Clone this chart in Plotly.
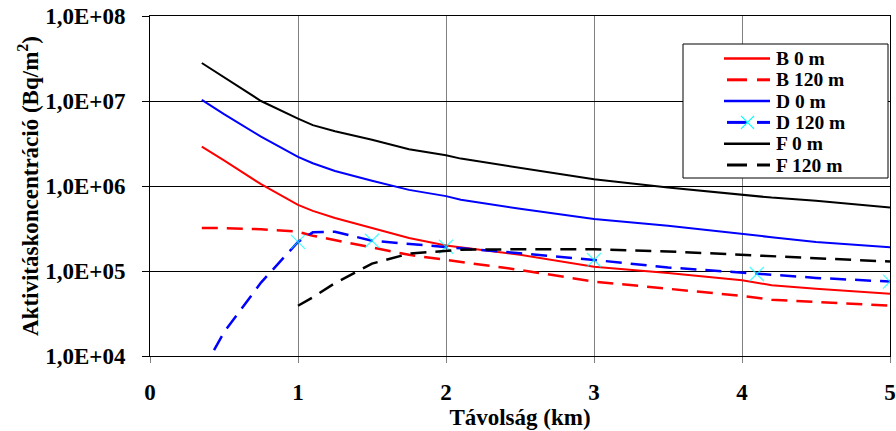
import plotly.graph_objects as go

# Distance from the source (km)
x_main = [0.35, 0.5, 0.75, 1.0, 1.1, 1.25, 1.5, 1.75, 2.0, 2.1, 2.5, 3.0, 3.5, 4.0, 4.2, 4.5, 5.0]
x_d120 = [0.35, 0.5, 0.75, 1.0, 1.1, 1.25, 1.5, 1.75, 2.0, 2.1, 2.5, 3.0, 3.5, 4.1, 4.5, 5.0]
x_f120 = [1.0, 1.1, 1.25, 1.5, 1.75, 2.0, 2.1, 2.5, 3.0, 3.5, 4.0, 4.2, 4.5, 5.0]

# Deposited activity concentration (Bq/m2)
b_0m = [2.9e6, 2.0e6, 1.05e6, 6.0e5, 5.1e5, 4.2e5, 3.2e5, 2.45e5, 2.0e5, 1.9e5, 1.55e5, 1.12e5, 9.5e4, 7.8e4, 6.8e4, 6.2e4, 5.4e4]
b_120m = [3.2e5, 3.2e5, 3.1e5, 2.9e5, 2.6e5, 2.3e5, 1.9e5, 1.55e5, 1.35e5, 1.28e5, 1.03e5, 7.5e4, 6.2e4, 5.1e4, 4.6e4, 4.3e4, 3.9e4]
d_0m = [1.03e7, 7.0e6, 3.8e6, 2.2e6, 1.85e6, 1.5e6, 1.15e6, 9.0e5, 7.6e5, 6.9e5, 5.4e5, 4.1e5, 3.4e5, 2.7e5, 2.5e5, 2.2e5, 1.9e5]
d_120m = [6.5e3, 1.9e4, 7.3e4, 2.2e5, 2.85e5, 2.9e5, 2.27e5, 2.1e5, 1.93e5, 1.85e5, 1.62e5, 1.35e5, 1.1e5, 9.2e4, 8.3e4, 7.5e4]
d_120m_marked = [False, False, False, True, False, False, True, False, True, False, False, True, False, True, False, True]
f_0m = [2.8e7, 1.9e7, 1.0e7, 6.2e6, 5.2e6, 4.4e6, 3.5e6, 2.7e6, 2.3e6, 2.1e6, 1.65e6, 1.2e6, 9.6e5, 8.0e5, 7.3e5, 6.7e5, 5.6e5]
f_120m = [3.9e4, 4.9e4, 7.2e4, 1.22e5, 1.6e5, 1.75e5, 1.78e5, 1.8e5, 1.8e5, 1.7e5, 1.55e5, 1.5e5, 1.42e5, 1.29e5]

series_names = ["B 0 m", "B 120 m", "D 0 m", "D 120 m", "F 0 m", "F 120 m"]

y_tickvals = [1e4, 1e5, 1e6, 1e7, 1e8]
y_ticktext = ["1,0E+04", "1,0E+05", "1,0E+06", "1,0E+07", "1,0E+08"]
x_tickvals = [0, 1, 2, 3, 4, 5]

FONT = "'Times New Roman', 'Liberation Serif', serif"
FS = 23
DASH = "16px,9px"
RED, BLUE, BLACK, CYAN = "#ff0000", "#0000ff", "#000000", "#00ffff"

styles = [
    dict(color=RED, width=2, dash="solid"),
    dict(color=RED, width=2.5, dash=DASH),
    dict(color=BLUE, width=2, dash="solid"),
    dict(color=BLUE, width=2.5, dash=DASH),
    dict(color=BLACK, width=2, dash="solid"),
    dict(color=BLACK, width=2.5, dash=DASH),
]
xs = [x_main, x_main, x_main, x_d120, x_main, x_f120]
ys = [b_0m, b_120m, d_0m, d_120m, f_0m, f_120m]

fig = go.Figure()
for name, x, y, st in zip(series_names, xs, ys, styles):
    if name == "D 120 m":
        fig.add_trace(go.Scatter(
            x=x, y=y, name=name, mode="lines+markers", line=st,
            marker=dict(symbol="x-thin", color=CYAN,
                        size=[14 if m else 0 for m in d_120m_marked],
                        line=dict(color=CYAN, width=1.3))))
    else:
        fig.add_trace(go.Scatter(x=x, y=y, name=name, mode="lines", line=st))

# Legend box drawn in paper coordinates
L, R, T, B = 683, 888, 44, 178          # box edges (px)
PL, PW, PT, PH = 150, 740, 16, 340      # plot area (px)
def px(v):
    return (v - PL) / PW
def py(v):
    return (PT + PH - v) / PH

shapes = [dict(type="rect", xref="paper", yref="paper",
               x0=px(L), x1=px(R), y0=py(B), y1=py(T),
               line=dict(color="black", width=1), fillcolor="white", layer="above")]
annotations = []
row0, step = 58.5, 21.3
for i, (name, st) in enumerate(zip(series_names, styles)):
    yc = row0 + i * step
    if st["dash"] == "solid":
        shapes.append(dict(type="line", xref="paper", yref="paper",
                           x0=px(724), x1=px(770), y0=py(yc), y1=py(yc),
                           line=dict(color=st["color"], width=2.5), layer="above"))
    else:
        for a, b in [(727, 747), (757, 770)]:
            shapes.append(dict(type="line", xref="paper", yref="paper",
                               x0=px(a), x1=px(b), y0=py(yc), y1=py(yc),
                               line=dict(color=st["color"], width=3), layer="above"))
    if name == "D 120 m":
        for d in (1, -1):
            shapes.append(dict(type="line", xref="paper", yref="paper",
                               x0=px(741), x1=px(754), y0=py(yc - 6.5 * d), y1=py(yc + 6.5 * d),
                               line=dict(color=CYAN, width=1.3), layer="above"))
    annotations.append(dict(xref="paper", yref="paper", x=px(775), y=py(yc),
                            xanchor="left", yanchor="middle", showarrow=False,
                            borderpad=0, text=f"<b>{name}</b>",
                            font=dict(family=FONT, size=19.5, color="black")))

fig.update_layout(
    width=896, height=431,
    margin=dict(l=PL, r=896 - PL - PW, t=PT, b=431 - PT - PH),
    paper_bgcolor="white", plot_bgcolor="white",
    font=dict(family=FONT, size=FS, color="black"),
    showlegend=False,
    shapes=shapes, annotations=annotations,
)
fig.update_xaxes(
    range=[0, 5], tickvals=x_tickvals, ticks="outside", ticklen=6,
    tickcolor="#808080", showgrid=True, gridcolor="#808080", gridwidth=1,
    showline=True, linecolor="black", linewidth=1, mirror=True,
    zeroline=False, ticklabelstandoff=9, automargin=False,
    tickfont=dict(family=FONT, size=FS, weight="bold"),
    title=dict(text="Távolság (km)", standoff=4,
               font=dict(family=FONT, size=FS, weight="bold")),
)
fig.update_yaxes(
    type="log", range=[4, 8], tickvals=y_tickvals, ticktext=y_ticktext,
    ticks="outside", ticklen=7, tickcolor="black",
    showgrid=True, gridcolor="black", gridwidth=1,
    showline=True, linecolor="black", linewidth=1, mirror=True,
    zeroline=False, ticklabelstandoff=12, automargin=False,
    tickfont=dict(family=FONT, size=FS, weight="bold"),
    title=dict(text="Aktivitáskoncentráció (Bq/m<sup>2</sup>)", standoff=0,
               font=dict(family=FONT, size=FS, weight="bold")),
)

fig.write_html("out.html")
